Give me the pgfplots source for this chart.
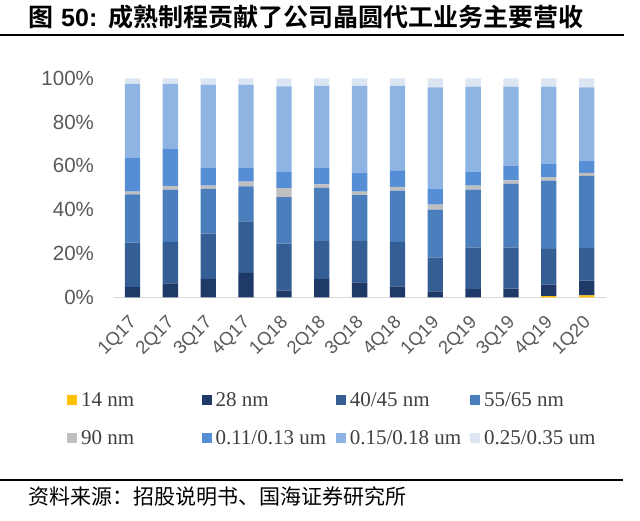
\documentclass[border=0pt]{standalone}
\usepackage{fontspec}
\setmainfont{Liberation Sans}
\newfontfamily\serifl{Liberation Serif}
\newfontfamily\cjkb{Noto Sans CJK SC Bold}
\newfontfamily\cjk{Noto Sans CJK SC}
\newfontfamily\arialb{Liberation Sans Bold}
\usepackage{pgfplots}
\usepackage{pgfplotstable}
\pgfplotsset{compat=1.18}
\definecolor{cA}{HTML}{FFC000}
\definecolor{cB}{HTML}{1F3A68}
\definecolor{cC}{HTML}{355F94}
\definecolor{cD}{HTML}{4A7EBD}
\definecolor{cE}{HTML}{BFBFBF}
\definecolor{cF}{HTML}{558ED5}
\definecolor{cG}{HTML}{8EB4E3}
\definecolor{cH}{HTML}{DCE6F2}
\definecolor{tickgray}{HTML}{595959}
\definecolor{leggray}{HTML}{404040}
\pgfplotstableread{
x a b c d e f g h
0 0 4.6 20.4 22.0 1.2 15.3 33.9 2.6
1 0 6.4 18.9 23.9 1.6 16.9 29.7 2.6
2 0 8.4 20.7 20.4 1.5 8.0 38.1 2.9
3 0 11.1 23.6 16.0 2.1 6.2 38.1 2.9
4 0 3.0 21.5 21.2 4.1 7.3 39.2 3.7
5 0 8.4 17.3 24.3 1.6 7.4 37.5 3.5
6 0 6.8 18.9 20.9 1.6 8.7 39.6 3.5
7 0 5.0 20.3 23.4 1.7 7.6 38.5 3.5
8 0 2.7 15.4 21.9 2.3 7.3 46.3 4.1
9 0 3.7 19.0 26.5 1.8 6.4 38.8 3.8
10 0 4.0 18.7 29.2 1.5 6.7 36.1 3.8
11 0.5 5.3 16.3 31.2 1.6 6.1 35.2 3.8
12 0.9 6.7 14.9 32.9 1.4 5.6 33.5 4.1
}\datatable
\begin{document}
\begin{tikzpicture}[x=1pt,y=1pt]
\path[use as bounding box] (0,0) rectangle (640,521);
\node[anchor=base west,inner sep=0pt] at (28,494) {\fontsize{25}{30}\selectfont\cjkb 图\hspace{8pt}\arialb 50:\hspace{11pt}\cjkb 成熟制程贡献了公司晶圆代工业务主要营收};
\draw[line width=2pt] (0,486) -- (624,486);
\draw[line width=1.3pt] (0,41) -- (623,41);
\node[anchor=base west,inner sep=0pt] at (28,16) {\fontsize{21}{25}\selectfont\cjk 资料来源：招股说明书、国海证券研究所};
\begin{axis}[
  at={(113.6pt,223.7pt)}, anchor=south west,
  scale only axis, width=492pt, height=219pt,
  ybar stacked, bar width=15.3pt,
  xmin=-0.5, xmax=12.5, ymin=0, ymax=100,
  axis x line*=bottom, axis y line*=left,
  x axis line style={draw=black!15, line width=1pt},
  y axis line style={draw=none},
  major tick length=0pt,
  xtick={0,...,12},
  xticklabels={1Q17,2Q17,3Q17,4Q17,1Q18,2Q18,3Q18,4Q18,1Q19,2Q19,3Q19,4Q19,1Q20},
  ytick={0,20,40,60,80,100},
  yticklabels={0\%,20\%,40\%,60\%,80\%,100\%},
  ticklabel style={text=tickgray},
  yticklabel style={font=\fontsize{20.5}{24}\selectfont, inner sep=0pt, xshift=-19.5pt},
  xticklabel style={font=\fontsize{18.5}{22}\selectfont, inner sep=0pt, yshift=-17pt, xshift=-4.5pt, rotate=45, anchor=north east},
  legend columns=4,
  legend style={draw=none, at={(rel axis cs:-0.1008,-0.423)}, anchor=north west,
    font=\fontsize{21}{25}\selectfont\serifl, text=leggray,
    nodes={inner sep=0pt}, column sep=0pt, row sep=23pt},
  legend image code/.code={\fill[#1] (0pt,-5pt) rectangle (10pt,5pt);},
]
\addplot[fill=cA, draw=none] table[x=x,y=a]{\datatable};
\addplot[fill=cB, draw=none] table[x=x,y=b]{\datatable};
\addplot[fill=cC, draw=none] table[x=x,y=c]{\datatable};
\addplot[fill=cD, draw=none] table[x=x,y=d]{\datatable};
\addplot[fill=cE, draw=none] table[x=x,y=e]{\datatable};
\addplot[fill=cF, draw=none] table[x=x,y=f]{\datatable};
\addplot[fill=cG, draw=none] table[x=x,y=g]{\datatable};
\addplot[fill=cH, draw=none] table[x=x,y=h]{\datatable};
\addlegendentry{\hspace{4pt}\makebox[120.3pt][l]{14 nm}}
\addlegendentry{\hspace{4pt}\makebox[120.3pt][l]{28 nm}}
\addlegendentry{\hspace{4pt}\makebox[120.3pt][l]{40/45 nm}}
\addlegendentry{\hspace{4pt}\makebox[120.3pt][l]{55/65 nm}}
\addlegendentry{\hspace{4pt}\makebox[120.3pt][l]{90 nm}}
\addlegendentry{\hspace{4pt}\makebox[120.3pt][l]{0.11/0.13 um}}
\addlegendentry{\hspace{4pt}\makebox[120.3pt][l]{0.15/0.18 um}}
\addlegendentry{\hspace{4pt}\makebox[120.3pt][l]{0.25/0.35 um}}
\end{axis}
\end{tikzpicture}
\end{document}
